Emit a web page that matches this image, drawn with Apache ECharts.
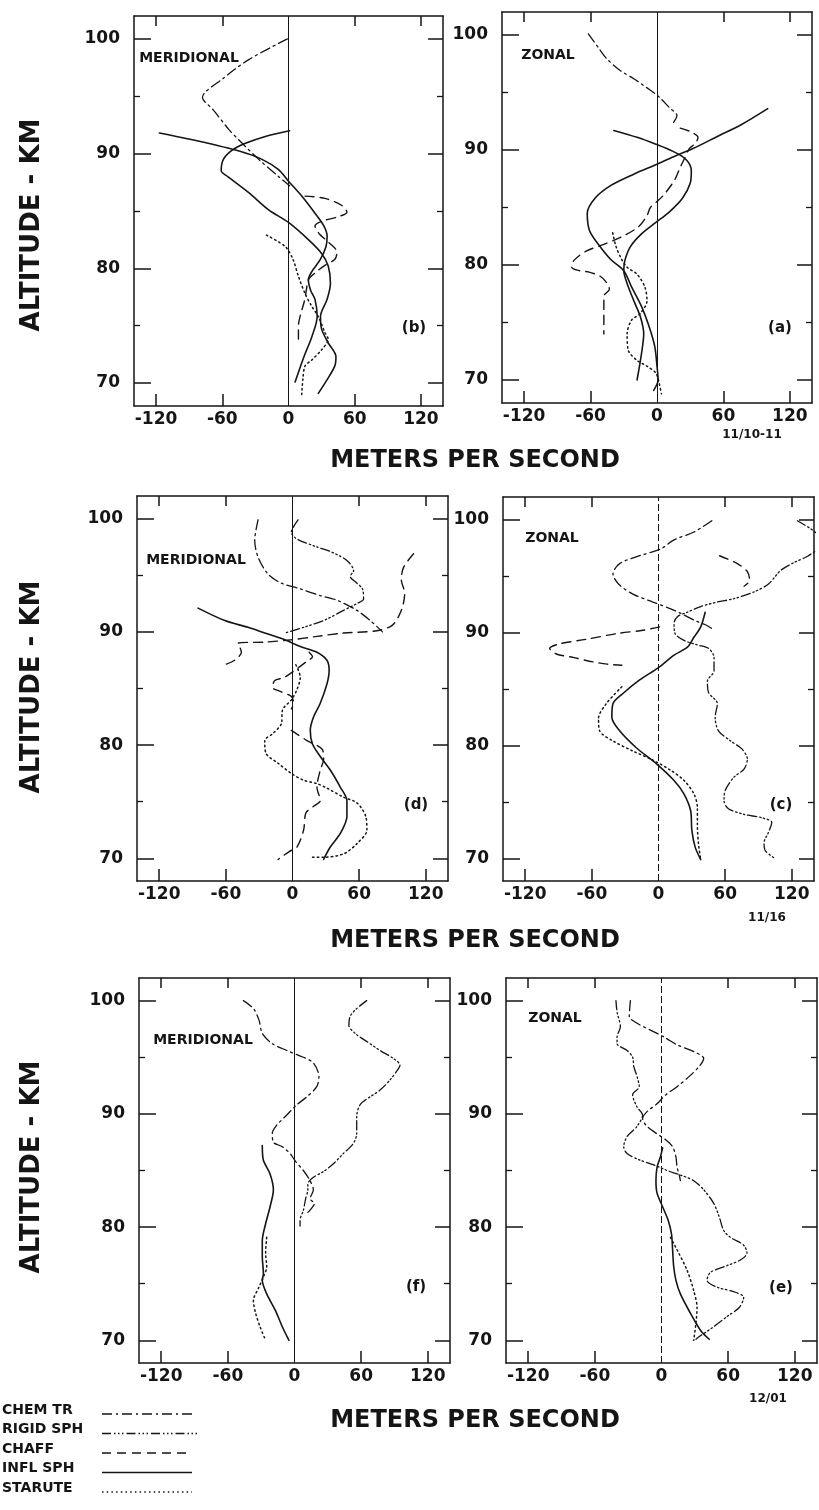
<!DOCTYPE html>
<html><head><meta charset="utf-8">
<script src="https://cdn.jsdelivr.net/npm/echarts@6/dist/echarts.min.js"></script>
<style>html,body{margin:0;padding:0;background:#fff}#c{width:819px;height:1510px}</style>
</head><body><div id="c"></div>
<script>
// ---------- tick labels ----------
const xTickLabels = [-120, -60, 0, 60, 120];
const xTickMarks = [-120, -60, 60, 120];
const yTickLabels = [70, 80, 90, 100];
const yMinorTicks = [75, 85, 95];
const GAP = ['-', '-'];

// ---------- panel (b) 11/10-11 meridional ----------
const p1ChemTr = [[-1,100],[-36,98.2],[-60,96.5],[-78,94.9],[-68,93.8],[-54,92.1],[-44,91.1],[-27,89.5],[-9,88.0],[1,87.2]];
const p1Chaff = [[15,86.3],[33,86.1],[48,85.5],[53,84.9],[45,84.5],[30,84.1],[24,83.7],[28,83.0],[36,82.3],[44,81.4],[42,80.8],[32,80.2],[24,79.6],[18,79.0],[16,78.0],[14,77.0],[11,76.0],[9,75.0],[9,74.2],[9,73.5]];
const p1InflA = [[-117,91.8],[-82,91.1],[-44,90.2],[-24,89.5],[-9,88.6],[0,87.6],[12,86.3],[24,84.8],[32,83.7],[35,82.8],[34,81.9],[29,80.8],[21,79.7],[18,79.0],[20,78.1],[24,77.3],[26,75.8],[21,74.0],[14,72.3],[6,70.1]];
const p1InflB = [[1,92.0],[-21,91.5],[-39,90.9],[-51,90.3],[-59,89.5],[-61,88.5],[-55,88.0],[-36,86.6],[-18,85.1],[0,84.0],[18,82.5],[30,81.3],[36,80.2],[38,78.7],[35,77.3],[29,75.8],[30,74.7],[36,73.5],[43,72.3],[42,71.5],[35,70.3],[27,69.1]];
const p1Starute = [[-20,82.9],[-3,81.9],[4,80.8],[9,79.3],[15,77.8],[21,76.7],[27,75.8],[33,74.4],[36,73.8],[30,72.9],[21,72.0],[15,71.5],[13,70.3],[12,69.0]];

// ---------- panel (a) 11/10-11 zonal ----------
const p2ChemTr = [[-62,100.1],[-53,98.9],[-45,97.9],[-33,96.9],[-21,96.2],[-9,95.4],[2,94.6],[11,93.7],[18,93.0],[15,92.4]];
const p2Chaff = [[21,91.9],[30,91.6],[37,91.1],[35,90.6],[29,90.1],[25,89.3],[21,88.5],[16,87.4],[7,86.2],[1,85.6],[-6,85.0],[-9,84.3],[-17,83.3],[-33,82.4],[-48,81.8],[-64,81.2],[-75,80.4],[-77,79.8],[-70,79.5],[-62,79.4],[-51,79.0],[-45,78.4],[-43,77.9],[-48,77.3],[-48,75.8],[-48,74.0]];
const p2InflA = [[100,93.6],[76,92.2],[55,91.2],[32,90.1],[17,89.5],[1,88.8],[-21,87.9],[-42,86.9],[-56,85.8],[-63,84.5],[-61,83.0],[-53,81.8],[-42,80.5],[-30,79.5],[-23,78.1],[-14,76.4],[-7,74.6],[-2,72.9],[0,71.2],[1,70.0],[-3,69.1]];
const p2InflB = [[-39,91.7],[-18,91.1],[-1,90.5],[14,89.9],[26,89.2],[31,88.2],[30,87.1],[23,85.8],[11,84.6],[-1,83.7],[-14,82.7],[-24,81.6],[-29,80.4],[-30,79.5],[-27,78.4],[-21,76.9],[-15,75.5],[-12,74.0],[-14,72.3],[-18,70.0]];
const p2Starute = [[-40,82.8],[-37,81.6],[-32,80.5],[-27,79.8],[-18,79.2],[-11,78.1],[-9,76.9],[-15,75.8],[-23,75.2],[-27,74.0],[-26,72.6],[-18,71.7],[-9,71.2],[-1,70.6],[2,69.7],[4,68.8]];

// ---------- panel (d) 11/16 meridional ----------
const p3ChemTr = [[-31,99.9],[-34,98.1],[-31,96.6],[-22,95.1],[-10,94.3],[7,93.8],[25,93.2],[40,92.8],[58,91.9],[70,91.0],[81,90.0]];
const p3Rigid = [[5,99.9],[-1,98.8],[4,98.2],[22,97.5],[34,97.1],[49,96.3],[55,95.4],[52,94.9],[58,94.3],[63,93.8],[64,92.9],[58,92.5],[46,91.9],[28,91.0],[10,90.4],[-7,89.9]];
const p3Chaff = [[109,96.9],[100,95.7],[98,94.6],[101,93.4],[98,91.9],[90,90.6],[76,90.1],[46,89.9],[22,89.6],[-1,89.3],[-25,89.1],[-49,89.0],[-46,88.2],[-52,87.5],[-61,87.1],GAP,
  [15,88.2],[18,87.8],[13,87.4],[-7,86.0],[-16,85.7],[-18,85.1],[-10,84.7],[-1,84.3],[1,83.7],[-1,83.2],GAP,
  [-1,81.3],[13,80.4],[27,79.6],[28,78.7],[25,77.8],[22,76.3],[25,75.1],[19,74.6],[12,74.0],[10,72.5],[4,71.0],[-3,70.6],[-13,69.9]];
const p3Infl = [[-85,92.1],[-61,91.0],[-40,90.4],[-25,89.9],[-7,89.3],[7,88.7],[22,88.2],[31,87.5],[33,86.6],[31,85.4],[25,83.7],[19,82.5],[16,81.3],[18,80.1],[25,79.0],[34,77.8],[43,76.3],[49,75.1],[49,73.7],[43,72.2],[34,71.0],[28,69.9]];
const p3Starute = [[3,87.1],[7,86.0],[4,84.9],[-1,84.0],[-9,83.1],[-10,81.9],[-18,81.0],[-25,80.4],[-24,79.3],[-13,78.4],[-1,77.5],[10,76.9],[22,76.6],[31,76.2],[46,75.4],[58,74.9],[66,73.7],[67,72.5],[58,71.3],[46,70.4],[28,70.1],[18,70.1]];

// ---------- panel (c) 11/16 zonal ----------
const p4ChemTr = [[48,99.9],[32,98.9],[14,98.2],[2,97.4],[-17,96.8],[-35,96.1],[-41,95.2],[-36,94.3],[-23,93.4],[-5,92.7],[11,92.1],[20,91.7],[32,91.1],[44,90.6],[50,90.2]];
const p4Rigid = [[125,99.9],[142,98.8],[146,97.8],[135,96.8],[122,96.2],[110,95.5],[99,94.3],[86,93.6],[68,93.0],[53,92.7],[38,92.3],[26,91.8],[17,91.4],[14,90.8],[15,89.9],[23,89.3],[35,88.9],[45,88.6],[50,87.8],[50,86.6],[44,85.7],[45,84.7],[53,83.7],[51,82.5],[54,81.3],[65,80.4],[75,79.7],[80,78.8],[77,77.9],[68,77.2],[60,76.0],[59,75.1],[63,74.4],[77,73.9],[93,73.6],[102,73.2],[99,72.3],[95,71.4],[96,70.7],[105,70.0]];
const p4Chaff = [[55,96.8],[71,96.1],[80,95.4],[82,94.6],[77,94.1],GAP,[1,90.5],[-14,90.2],[-38,89.9],[-65,89.4],[-89,89.0],[-98,88.6],[-92,88.1],[-77,87.8],[-59,87.4],[-46,87.2],[-33,87.1]];
const p4Infl = [[42,91.8],[38,90.5],[32,89.6],[26,88.7],[14,88.0],[0,86.9],[-17,85.8],[-32,84.6],[-41,83.7],[-42,82.5],[-35,81.3],[-20,79.8],[-2,78.4],[14,76.9],[23,75.7],[29,74.2],[30,72.5],[33,71.0],[38,69.9]];
const p4Starute = [[-33,85.2],[-47,83.7],[-54,82.4],[-53,81.3],[-41,80.4],[-23,79.5],[-5,78.7],[11,77.8],[23,76.9],[32,75.7],[35,74.5],[35,73.0],[36,71.3],[38,69.9]];

// ---------- panel (f) 12/01 meridional ----------
const p5ChemTr = [[-46,100],[-37,99.3],[-32,98.3],[-29,97.1],[-20,96.2],[-7,95.6],[8,95.0],[17,94.5],[22,93.3],[20,92.4],[11,91.5],[2,90.8],[-7,89.9],[-16,89.0],[-20,88.3],[-19,87.5],[-11,87.1],[-4,86.5],[1,85.8],[8,85.0],[14,84.1],[17,83.3],[14,82.5],[18,82.1],[14,81.5],[11,81.2]];
const p5Rigid = [[65,100],[56,99.3],[50,98.6],[49,97.8],[56,97.0],[65,96.4],[77,95.6],[89,94.9],[95,94.3],[93,93.9],[86,93.0],[77,92.1],[68,91.5],[59,90.8],[56,89.7],[56,88.3],[53,87.4],[44,86.5],[35,85.6],[26,84.9],[17,84.4],[12,83.8],[12,83.3],[10,82.5],[8,81.5],[5,80.6],[5,80.1]];
const p5Infl = [[-29,87.2],[-28,85.9],[-22,84.7],[-19,83.3],[-22,81.8],[-26,80.3],[-29,78.8],[-29,77.4],[-28,75.9],[-29,75.3],[-25,74.1],[-17,72.6],[-11,71.2],[-5,70.0]];
const p5Starute = [[-25,79.1],[-26,77.7],[-25,76.5],[-28,75.6],[-32,74.7],[-37,73.5],[-35,72.4],[-31,71.2],[-26,70.0]];

// ---------- panel (e) 12/01 zonal ----------
const p6ChemTr = [[-28,100],[-29,98.6],[-22,98.0],[-10,97.4],[2,96.8],[14,96.1],[29,95.5],[38,94.9],[34,94.2],[26,93.4],[14,92.4],[4,91.7],[-4,90.9],[-13,90.2],[-17,89.6],[-14,89.0],[-5,88.3],[4,87.7],[10,87.1],[13,86.2],[14,85.3],[16,84.6],[17,84.1]];
const p6Rigid = [[-41,100],[-40,99.0],[-37,97.7],[-40,96.8],[-40,96.2],[-31,95.6],[-26,95.0],[-25,94.2],[-22,93.3],[-20,92.4],[-26,91.7],[-22,90.6],[-17,89.9],[-22,88.9],[-31,88.0],[-34,87.1],[-31,86.5],[-19,85.9],[-7,85.5],[5,85.0],[17,84.6],[29,84.1],[38,83.3],[47,82.1],[52,80.9],[56,79.7],[62,79.1],[74,78.4],[77,77.7],[71,77.1],[59,76.6],[44,76.0],[41,75.3],[50,74.7],[65,74.3],[74,73.8],[70,72.9],[59,72.1],[47,71.2],[35,70.4],[31,70.1]];
const p6Infl = [[1,87.0],[-1,86.2],[-4,85.3],[-5,84.1],[-4,83.0],[1,81.8],[6,80.6],[9,79.4],[10,78.0],[11,76.5],[13,75.3],[17,74.1],[26,72.4],[35,70.9],[43,70.1]];
const p6Starute = [[8,79.1],[14,78.0],[23,76.2],[29,74.4],[32,72.9],[31,71.5],[29,70.0]];

// ---------- texts ----------
const instrumentNames = ['CHEM TR', 'RIGID SPH', 'CHAFF', 'INFL SPH', 'STARUTE'];
const dateLabels = ['11/10-11', '11/16', '12/01'];
const componentLabels = ['MERIDIONAL', 'ZONAL'];
const panelTags = ['(b)', '(a)', '(d)', '(c)', '(f)', '(e)'];
const xTitle = 'METERS PER SECOND';
const yTitle = 'ALTITUDE - KM';

// ---------- layout & styles ----------
const INK = '#151515';
const FONT = 'DejaVu Sans';
const styleOf = {
  chem:    { type: [10, 4, 2, 4], width: 1.3 },
  rigid:   { type: [9, 3, 1.5, 2.5, 1.5, 2.5, 1.5, 3], width: 1.3 },
  chaff:   { type: [9, 6], width: 1.4 },
  infl:    { type: 'solid', width: 1.6 },
  starute: { type: [1.5, 3.2], width: 1.5 }
};
const legendKeys = ['chem', 'rigid', 'chaff', 'infl', 'starute'];

const panels = [
  { grid: { left: 134, top: 16, width: 309, height: 390 }, comp: 0, tag: [414, 328], compPos: [189, 58], zeroDash: 'solid',
    lines: [['chem', p1ChemTr], ['chaff', p1Chaff], ['infl', p1InflA], ['infl', p1InflB], ['starute', p1Starute]] },
  { grid: { left: 502, top: 12, width: 310, height: 391 }, comp: 1, tag: [780, 328], compPos: [548, 55], zeroDash: 'solid',
    lines: [['chem', p2ChemTr], ['chaff', p2Chaff], ['infl', p2InflA], ['infl', p2InflB], ['starute', p2Starute]] },
  { grid: { left: 137, top: 496, width: 311, height: 385 }, comp: 0, tag: [416, 805], compPos: [196, 560], zeroDash: 'solid',
    lines: [['chem', p3ChemTr], ['rigid', p3Rigid], ['chaff', p3Chaff], ['infl', p3Infl], ['starute', p3Starute]] },
  { grid: { left: 503, top: 497, width: 311, height: 384 }, comp: 1, tag: [781, 805], compPos: [552, 538], zeroDash: [7, 3],
    lines: [['chem', p4ChemTr], ['rigid', p4Rigid], ['chaff', p4Chaff], ['infl', p4Infl], ['starute', p4Starute]] },
  { grid: { left: 139, top: 978, width: 311, height: 385 }, comp: 0, tag: [416, 1287], compPos: [203, 1040], zeroDash: 'solid',
    lines: [['chem', p5ChemTr], ['rigid', p5Rigid], ['infl', p5Infl], ['starute', p5Starute]] },
  { grid: { left: 506, top: 978, width: 311, height: 385 }, comp: 1, tag: [781, 1288], compPos: [555, 1018], zeroDash: [7, 3],
    lines: [['chem', p6ChemTr], ['rigid', p6Rigid], ['infl', p6Infl], ['starute', p6Starute]] }
];

const grids = [], xAxes = [], yAxes = [], series = [];
const axLine = { show: true, onZero: false, lineStyle: { color: INK, width: 1.5 } };
const noLine = { show: false, onZero: false };
const labelStyle = { color: INK, fontFamily: FONT, fontWeight: 'bold', fontSize: 17 };

panels.forEach((p, i) => {
  grids.push(p.grid);
  const xBase = { type: 'value', gridIndex: i, min: -140, max: 140, splitLine: { show: false }, axisLine: axLine };
  xAxes.push(Object.assign({}, xBase, { position: 'bottom',
    axisTick: { show: true, inside: true, length: 12, customValues: xTickMarks, lineStyle: { color: INK, width: 1.5 } },
    axisLabel: Object.assign({ show: true, margin: 5, customValues: xTickLabels }, labelStyle) }));
  xAxes.push(Object.assign({}, xBase, { position: 'top',
    axisTick: { show: true, inside: true, length: 10, customValues: xTickMarks, lineStyle: { color: INK, width: 1.5 } },
    axisLabel: { show: false } }));
  const yBase = { type: 'value', gridIndex: i, min: 68, max: 102, splitLine: { show: false }, offset: 0 };
  yAxes.push(Object.assign({}, yBase, { position: 'left', axisLine: axLine,
    axisTick: { show: true, inside: true, length: 17, customValues: yTickLabels, lineStyle: { color: INK, width: 1.5 } },
    axisLabel: Object.assign({ show: true, margin: 14, customValues: yTickLabels }, labelStyle) }));
  yAxes.push(Object.assign({}, yBase, { position: 'left', axisLine: noLine,
    axisTick: { show: true, inside: true, length: 6, customValues: yMinorTicks, lineStyle: { color: INK, width: 1.3 } },
    axisLabel: { show: false } }));
  yAxes.push(Object.assign({}, yBase, { position: 'right', axisLine: axLine,
    axisTick: { show: true, inside: true, length: 15, customValues: yTickLabels, lineStyle: { color: INK, width: 1.5 } },
    axisLabel: { show: false } }));
  yAxes.push(Object.assign({}, yBase, { position: 'right', axisLine: noLine,
    axisTick: { show: true, inside: true, length: 6, customValues: yMinorTicks, lineStyle: { color: INK, width: 1.3 } },
    axisLabel: { show: false } }));

  p.lines.forEach(([key, data], k) => {
    const s = {
      type: 'line', name: instrumentNames[legendKeys.indexOf(key)],
      xAxisIndex: 2 * i, yAxisIndex: 4 * i, data: data,
      showSymbol: false, symbol: 'none', smooth: 0.3, connectNulls: false, clip: true,
      lineStyle: { color: INK, width: styleOf[key].width, type: styleOf[key].type, cap: 'round' },
      silent: true, z: 3
    };
    if (k === 0) {
      s.markLine = { silent: true, symbol: ['none', 'none'], label: { show: false },
        lineStyle: { color: INK, width: 1, type: p.zeroDash }, data: [{ xAxis: 0 }] };
    }
    series.push(s);
  });
});

// graphic texts
const graphic = [];
const txt = (text, x, y, size, extra) => Object.assign({ type: 'text', x: x, y: y, silent: true,
  style: { text: text, fill: INK, font: 'bold ' + size + 'px "' + FONT + '"', textAlign: 'center', textVerticalAlign: 'middle' } }, extra || {});
[225, 687, 1167].forEach(y => graphic.push(txt(yTitle, 32, y, 26, { rotation: Math.PI / 2 })));
[461, 941, 1421].forEach(y => graphic.push(txt(xTitle, 475, y, 24)));
[[752, 435], [767, 918], [768, 1399]].forEach((pos, i) => graphic.push(txt(dateLabels[i], pos[0], pos[1], 12)));
panels.forEach((p, i) => {
  graphic.push(txt(componentLabels[p.comp], p.compPos[0], p.compPos[1], 14));
  graphic.push(txt(panelTags[i], p.tag[0], p.tag[1], 15));
});
// legend (drawn samples)
const legendY = [1410, 1429.5, 1449, 1468.5, 1488];
const legendX2 = [195, 200, 188, 192, 192];
instrumentNames.forEach((name, i) => {
  graphic.push({ type: 'text', x: 2, y: legendY[i], silent: true,
    style: { text: name, fill: INK, font: 'bold 14px "' + FONT + '"', textAlign: 'left', textVerticalAlign: 'middle' } });
  const st = styleOf[legendKeys[i]];
  graphic.push({ type: 'line', silent: true,
    shape: { x1: 102, y1: legendY[i] + 4, x2: legendX2[i], y2: legendY[i] + 4 },
    style: { stroke: INK, lineWidth: st.width, lineDash: st.type === 'solid' ? null : st.type } });
});

const chart = echarts.init(document.getElementById('c'), null, { renderer: 'canvas' });
chart.setOption({
  backgroundColor: '#ffffff', animation: false,
  grid: grids, xAxis: xAxes, yAxis: yAxes, series: series, graphic: graphic
});
</script></body></html>
